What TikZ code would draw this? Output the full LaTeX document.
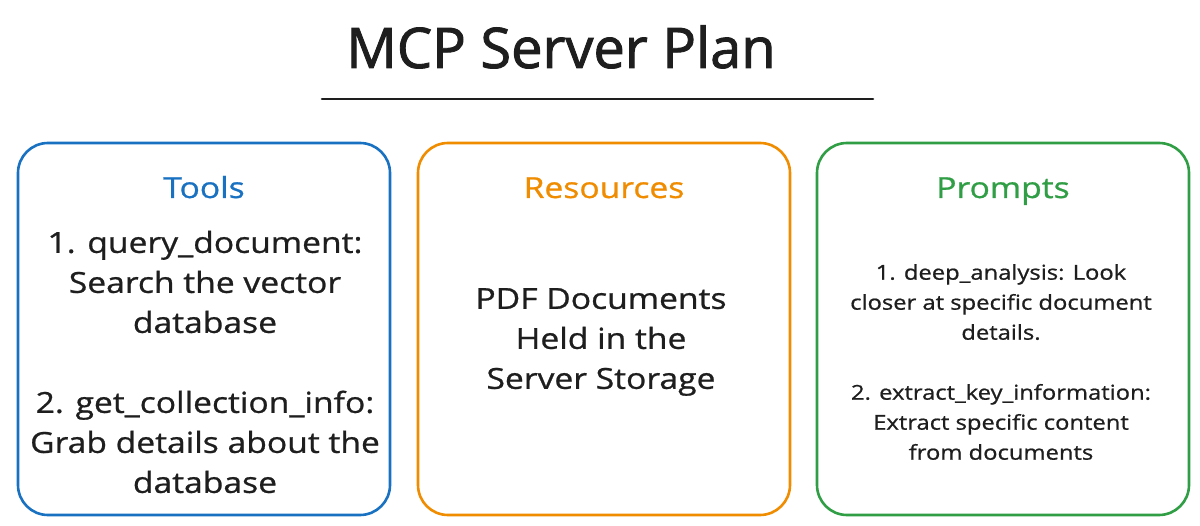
\documentclass[tikz,border=0pt]{standalone}
\usepackage{fontspec}
\setmainfont{Open Sans}
\newfontfamily\sketchfont[FakeStretch=1.16, FakeBold=0.8]{Open Sans}
\newfontfamily\titlefont[FakeBold=1.6]{Open Sans}
\definecolor{exblue}{HTML}{1971C2}
\definecolor{exorange}{HTML}{F08C00}
\definecolor{exgreen}{HTML}{2F9E44}
\definecolor{exink}{HTML}{1E1E1E}
\begin{document}
\begin{tikzpicture}[x=1pt,y=-1pt,
  panel/.style={draw, line width=2.6pt, rounded corners=30pt},
  heading/.style={inner sep=0pt, anchor=base, font=\sketchfont\fontsize{29}{34}\selectfont},
  bodytext/.style={inner sep=0pt, align=center, text=exink, font=\sketchfont\fontsize{29}{40}\selectfont},
  smalltext/.style={inner sep=0pt, align=center, text=exink, font=\sketchfont\fontsize{20.5}{30}\selectfont}]
\useasboundingbox[fill=white] (0,0) rectangle (1200,526);
% title
\node[inner sep=0pt, anchor=base, text=exink, font=\titlefont\fontsize{56}{64}\selectfont] (title) at (561,68) {MCP Server Plan};
\coordinate (ulL) at (322,99);
\coordinate (ulR) at (873,99);
\draw[exink, line width=2.6pt, line cap=round] (ulL) -- (ulR);
% panels
\node[panel, draw=exblue, minimum width=372pt, minimum height=372pt] (tools) at (204,329) {};
\node[panel, draw=exorange, minimum width=372pt, minimum height=372pt] (resources) at (604,329) {};
\node[panel, draw=exgreen, minimum width=372pt, minimum height=372pt] (prompts) at (1003,329) {};
% headings
\node[heading, text=exblue] (toolsh) at (204,198) {Tools};
\node[heading, text=exorange] (resh) at (604,198) {Resources};
\node[heading, text=exgreen] (promh) at (1003,198) {Prompts};
% bodies
\node[bodytext] (toolsb) at (205,362) {1. query\_document:\\ Search the vector\\ database\\[40pt] 2. get\_collection\_info:\\ Grab details about the\\ database};
\node[bodytext] (resb) at (601,342) {PDF Documents\\ Held in the\\ Server Storage};
\node[smalltext] (promb) at (1001,362) {1. deep\_analysis: Look\\ closer at specific document\\ details.\\[30pt] 2. extract\_key\_information:\\ Extract specific content\\ from documents};
\end{tikzpicture}
\end{document}
